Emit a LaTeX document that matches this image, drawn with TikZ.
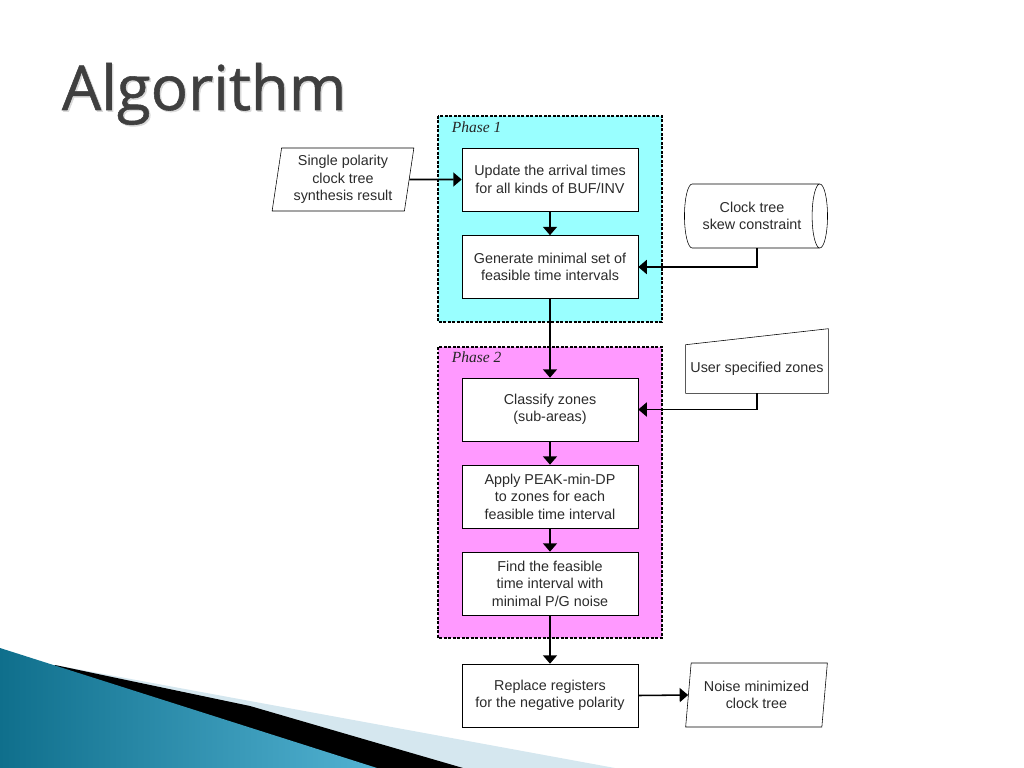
\documentclass[tikz,border=0pt]{standalone}
\usepackage{fontspec}
\setmainfont{Liberation Sans}
\newfontfamily\titlefont[FakeBold=0.9]{Open Sans}
\newfontfamily\phasefont{Liberation Serif}
\usetikzlibrary{arrows.meta,shapes.geometric,positioning}
\definecolor{phaseone}{HTML}{99FFFF}
\definecolor{phasetwo}{HTML}{FF99FF}
\definecolor{titlegray}{HTML}{3F3F3F}
\definecolor{boxtext}{HTML}{2B2B2B}
\definecolor{wavedark}{HTML}{0F6F8C}
\definecolor{wavelight}{HTML}{52B2D2}
\definecolor{wavepale}{HTML}{D5E7EF}

\tikzset{
    stepbox/.style={draw, thin, fill=white, text=boxtext, align=center,
        minimum width=4.4cm, minimum height=1.575cm, inner sep=0pt,
        font=\fontsize{10.2}{12.4}\selectfont},
    iobox/.style={stepbox, trapezium, trapezium left angle=81,
        trapezium right angle=99, trapezium stretches=true,
        minimum width=3.55cm},
    phasebox/.style={draw, line width=0.9pt, dash pattern=on 2pt off 1.2pt},
    phaselabel/.style={anchor=base west, text=black!85,
        font=\phasefont\itshape\fontsize{11}{13}\selectfont},
    flow/.style={line width=1.1pt, -{Triangle[width=10pt,length=6pt]}}
}

\begin{document}
\begin{tikzpicture}[x=0.025cm, y=-0.025cm]
    \useasboundingbox (0,0) rectangle (1024,768);

    % wave in the lower left corner
    \fill[wavepale] (55,665) -- (250,701) -- (615,768) -- (0,768) -- cycle;
    \fill[black] (55,665) -- (250,706) -- (463,768) -- (0,768) -- cycle;
    \shade[left color=wavedark, right color=wavelight]
        (0,648) -- (377,768) -- (0,768) -- cycle;

    % title with a light shadow
    \node[anchor=base west, text=black!15, font=\titlefont\fontsize{44}{50}\selectfont]
        at (58.5,111.5) {Algorithm};
    \node[anchor=base west, text=titlegray, font=\titlefont\fontsize{44}{50}\selectfont]
        (title) at (57,110) {Algorithm};

    % the two phases
    \filldraw[phasebox, fill=phaseone] (438,116) rectangle (662,322);
    \node[phaselabel] (phaseA) at (447,133) {Phase 1};
    \filldraw[phasebox, fill=phasetwo] (438,347) rectangle (662,638);
    \node[phaselabel] (phaseB) at (447,362) {Phase 2};

    % steps of the flow
    \node[stepbox] (update) at (550,179.5) {Update the arrival times\\for all kinds of BUF/INV};
    \node[stepbox] (generate) at (550,267) {Generate minimal set of\\feasible time intervals};
    \node[stepbox] (classify) at (550,409.5) {Classify zones\\(sub-areas)};
    \node[stepbox] (apply) at (550,496.5) {Apply PEAK-min-DP\\to zones for each\\feasible time interval};
    \node[stepbox] (find) at (550,583.5) {Find the feasible\\time interval with\\minimal P/G noise};
    \node[stepbox] (replace) at (550,695.5) {Replace registers\\for the negative polarity};

    % inputs and output
    \node[iobox] (single) at (343,179.5) {Single polarity\\clock tree\\synthesis result};
    \node[iobox, minimum height=1.6cm] (noise) at (756.5,695) {Noise minimized\\clock tree};
    \node[draw, thin, fill=white, text=boxtext, align=center, cylinder, aspect=0.55,
        minimum height=3.575cm, minimum width=1.6cm, inner sep=0pt,
        font=\fontsize{10.2}{12.4}\selectfont] (skew) at (752,216) {Clock tree\\skew constraint};
    \node[text=boxtext, minimum width=3.55cm, minimum height=1.2cm, inner sep=0pt,
        font=\fontsize{10.2}{12.4}\selectfont] (zones) at (757,369) {User specified zones};
    \draw[thin] (zones.south west) -- (zones.north west)
        -- ([yshift=0.4cm]zones.north east) -- (zones.south east) -- cycle;

    % connectors
    \draw[flow] (single.east) -- (update.west);
    \draw[flow] (update) -- (generate);
    \draw[flow] ([xshift=0.125cm]skew.south) |- (generate.east);
    \draw[flow] (generate) -- (classify);
    \draw[flow] (zones.south) |- (classify.east);
    \draw[flow] (classify) -- (apply);
    \draw[flow] (apply) -- (find);
    \draw[flow] (find) -- (replace);
    \draw[flow] (replace.east) -- (noise.west);
\end{tikzpicture}
\end{document}
